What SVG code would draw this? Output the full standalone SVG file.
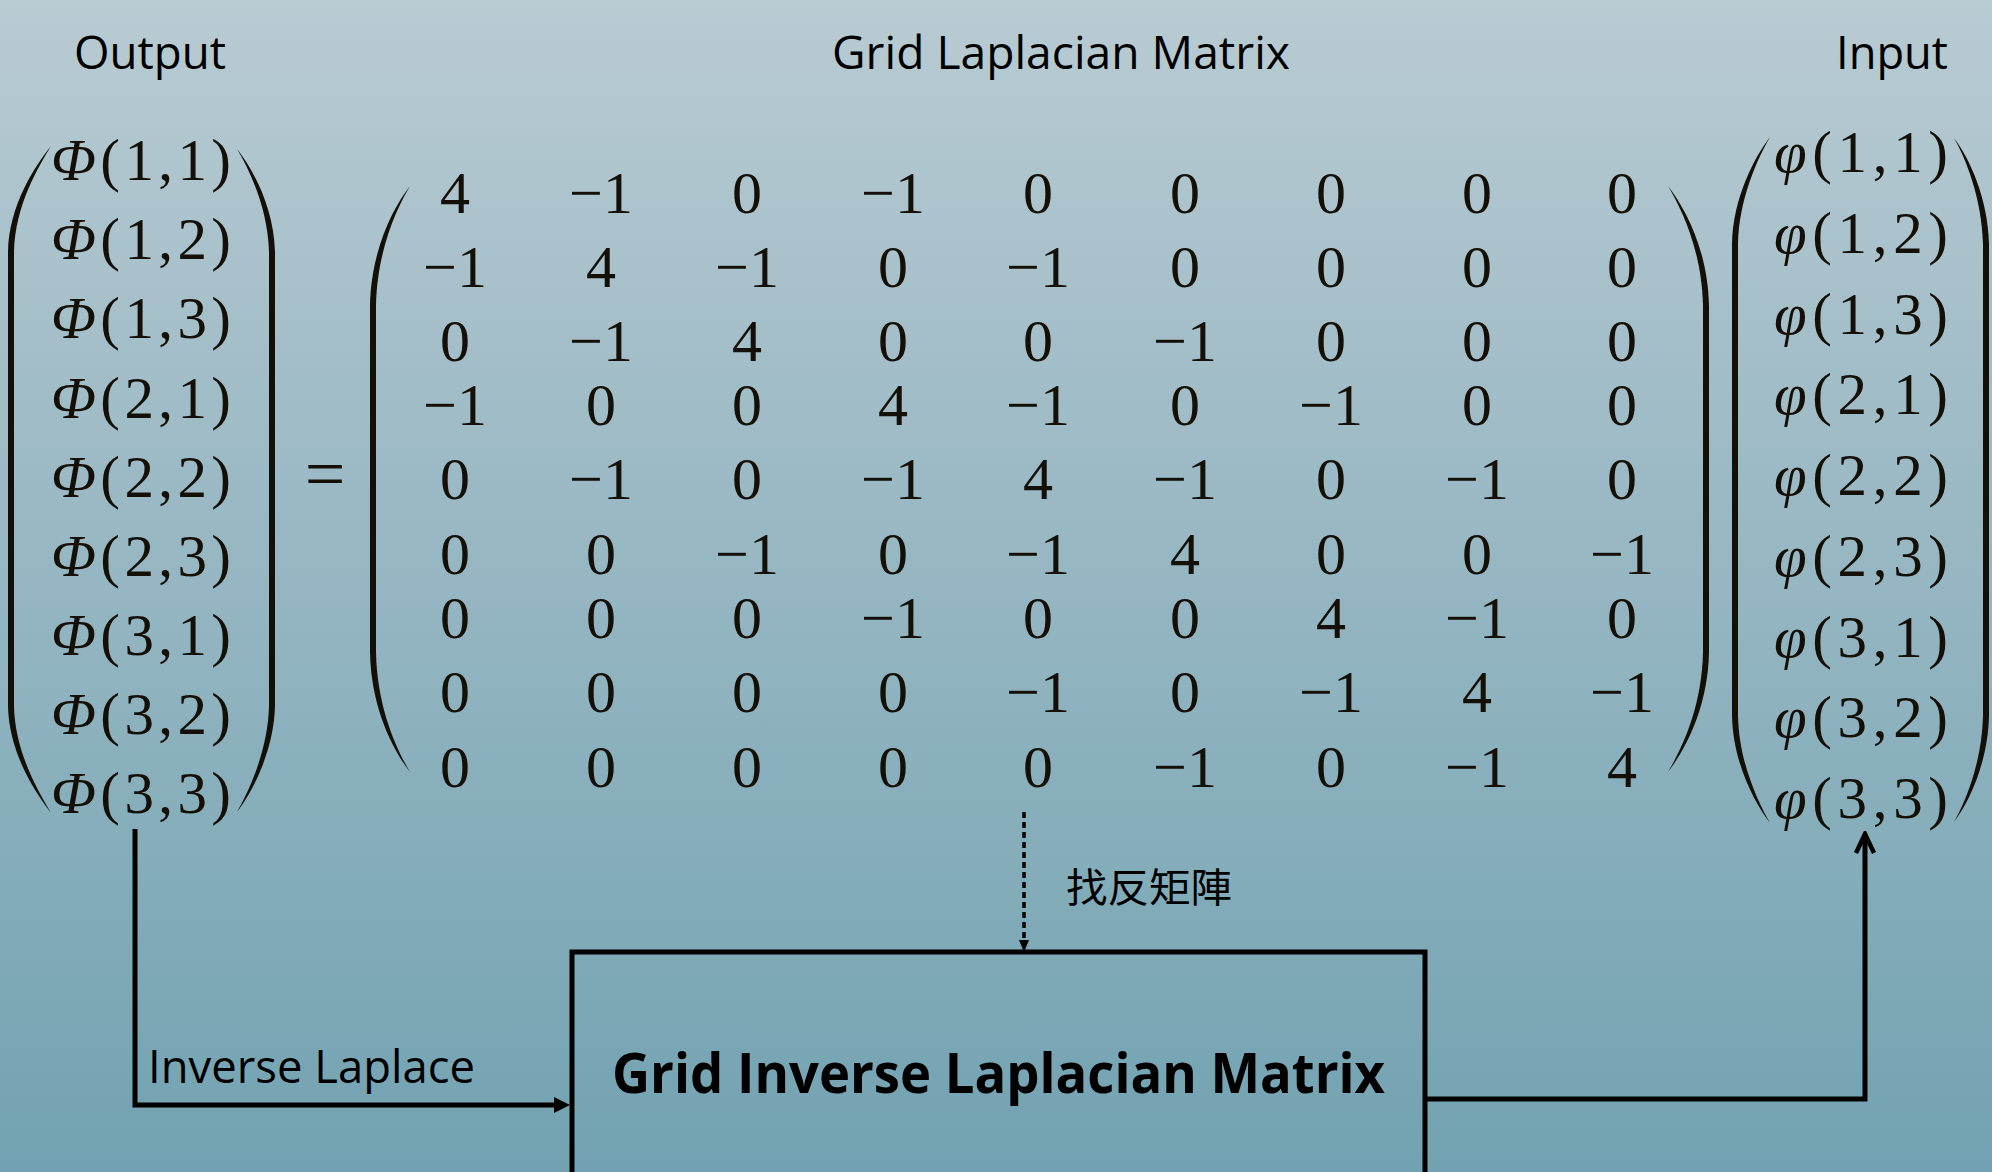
<svg xmlns="http://www.w3.org/2000/svg" width="1992" height="1172" viewBox="0 0 1992 1172">
  <defs>
    <linearGradient id="bg" x1="0" y1="0" x2="0" y2="1">
      <stop offset="0" stop-color="#b9cbd3"/>
      <stop offset="0.5" stop-color="#95b6c2"/>
      <stop offset="1" stop-color="#72a2b1"/>
    </linearGradient>
    <marker id="head-solid" viewBox="0 0 16 16" refX="4" refY="8" markerWidth="16" markerHeight="16" markerUnits="userSpaceOnUse" orient="auto">
      <path d="M0,0 L16,8 L0,16 Z" fill="#000"/>
    </marker>
    <marker id="head-small" viewBox="0 0 12 10" refX="1" refY="5" markerWidth="12" markerHeight="10" markerUnits="userSpaceOnUse" orient="auto">
      <path d="M0,0 L12,5 L0,10 Z" fill="#000"/>
    </marker>
    <marker id="head-open" viewBox="0 0 24 24" refX="21" refY="12" markerWidth="24" markerHeight="24" markerUnits="userSpaceOnUse" orient="auto">
      <path d="M2,3 L21,12 L2,21" fill="none" stroke="#000" stroke-width="4.5"/>
    </marker>
    <style>
      .label { font-family: "Open Sans", "Liberation Sans", sans-serif; font-size: 46px; fill: #000; }
      .box-label { font-family: "Open Sans", "Liberation Sans", sans-serif; font-size: 56px; font-weight: bold; fill: #000; }
      .cjk { font-family: "Noto Sans CJK TC", "Noto Sans CJK SC", sans-serif; font-size: 40px; fill: #000; }
      .vec { font-family: "Liberation Serif", "DejaVu Serif", serif; font-size: 59px; fill: #141008; }
      .vec .sym { font-style: italic; }
      .mat { font-family: "Liberation Serif", "DejaVu Serif", serif; font-size: 60px; fill: #141008; text-anchor: middle; }
      .paren { fill: #141008; }
      .wire { fill: none; stroke: #000; stroke-width: 5; }
      .dotted { fill: none; stroke: #000; stroke-width: 3.5; stroke-dasharray: 6 4; }
      .box { fill: none; stroke: #000; stroke-width: 5; }
    </style>
  </defs>

  <!-- backdrop -->
  <rect x="0" y="0" width="1992" height="1172" fill="url(#bg)"/>

  <!-- headings -->
  <g id="headings">
    <text class="label" x="74" y="69" textLength="152" lengthAdjust="spacingAndGlyphs">Output</text>
    <text class="label" x="832" y="69" textLength="458" lengthAdjust="spacingAndGlyphs">Grid Laplacian Matrix</text>
    <text class="label" x="1836" y="69" textLength="112" lengthAdjust="spacingAndGlyphs">Input</text>
  </g>

  <!-- output vector Φ -->
  <g id="output-vector">
    <path class="paren" d="M51,146 C35,166 9,205 8,252 L8,706 C9,753 35,792 51,813 C39,792 15,753 14,706 L14,252 C15,205 39,166 51,146 Z"/>
    <path class="paren" d="M237,149 C253,169 274,208 275,252 L275,706 C274,750 253,791 237,812 C249,791 268,750 269,706 L269,252 C268,208 249,169 237,149 Z"/>
    <g class="vec">
      <text x="51" y="180" textLength="180" lengthAdjust="spacing"><tspan class="sym">Φ</tspan>(1,1)</text>
      <text x="51" y="259" textLength="180" lengthAdjust="spacing"><tspan class="sym">Φ</tspan>(1,2)</text>
      <text x="51" y="338" textLength="180" lengthAdjust="spacing"><tspan class="sym">Φ</tspan>(1,3)</text>
      <text x="51" y="418" textLength="180" lengthAdjust="spacing"><tspan class="sym">Φ</tspan>(2,1)</text>
      <text x="51" y="497" textLength="180" lengthAdjust="spacing"><tspan class="sym">Φ</tspan>(2,2)</text>
      <text x="51" y="576" textLength="180" lengthAdjust="spacing"><tspan class="sym">Φ</tspan>(2,3)</text>
      <text x="51" y="655" textLength="180" lengthAdjust="spacing"><tspan class="sym">Φ</tspan>(3,1)</text>
      <text x="51" y="734" textLength="180" lengthAdjust="spacing"><tspan class="sym">Φ</tspan>(3,2)</text>
      <text x="51" y="813" textLength="180" lengthAdjust="spacing"><tspan class="sym">Φ</tspan>(3,3)</text>
    </g>
  </g>

  <!-- equals sign -->
  <g id="equals">
    <text class="mat" x="325" y="498" style="font-size:72px">=</text>
  </g>

  <!-- 9x9 grid Laplacian -->
  <g id="laplacian-matrix">
    <path class="paren" d="M410,186 C393,208 371,250 370,306 L370,652 C371,708 393,750 410,772 C397,750 377,708 376,652 L376,306 C377,250 397,208 410,186 Z"/>
    <path class="paren" d="M1668,186 C1685,208 1708,250 1709,306 L1709,652 C1708,708 1685,750 1668,772 C1681,750 1702,708 1703,652 L1703,306 C1702,250 1681,208 1668,186 Z"/>
    <g class="mat">
      <text x="455" y="213">4</text><text x="601" y="213">−1</text><text x="747" y="213">0</text><text x="893" y="213">−1</text><text x="1038" y="213">0</text><text x="1185" y="213">0</text><text x="1331" y="213">0</text><text x="1477" y="213">0</text><text x="1622" y="213">0</text>
      <text x="455" y="287">−1</text><text x="601" y="287">4</text><text x="747" y="287">−1</text><text x="893" y="287">0</text><text x="1038" y="287">−1</text><text x="1185" y="287">0</text><text x="1331" y="287">0</text><text x="1477" y="287">0</text><text x="1622" y="287">0</text>
      <text x="455" y="361">0</text><text x="601" y="361">−1</text><text x="747" y="361">4</text><text x="893" y="361">0</text><text x="1038" y="361">0</text><text x="1185" y="361">−1</text><text x="1331" y="361">0</text><text x="1477" y="361">0</text><text x="1622" y="361">0</text>
      <text x="455" y="425">−1</text><text x="601" y="425">0</text><text x="747" y="425">0</text><text x="893" y="425">4</text><text x="1038" y="425">−1</text><text x="1185" y="425">0</text><text x="1331" y="425">−1</text><text x="1477" y="425">0</text><text x="1622" y="425">0</text>
      <text x="455" y="499">0</text><text x="601" y="499">−1</text><text x="747" y="499">0</text><text x="893" y="499">−1</text><text x="1038" y="499">4</text><text x="1185" y="499">−1</text><text x="1331" y="499">0</text><text x="1477" y="499">−1</text><text x="1622" y="499">0</text>
      <text x="455" y="574">0</text><text x="601" y="574">0</text><text x="747" y="574">−1</text><text x="893" y="574">0</text><text x="1038" y="574">−1</text><text x="1185" y="574">4</text><text x="1331" y="574">0</text><text x="1477" y="574">0</text><text x="1622" y="574">−1</text>
      <text x="455" y="638">0</text><text x="601" y="638">0</text><text x="747" y="638">0</text><text x="893" y="638">−1</text><text x="1038" y="638">0</text><text x="1185" y="638">0</text><text x="1331" y="638">4</text><text x="1477" y="638">−1</text><text x="1622" y="638">0</text>
      <text x="455" y="712">0</text><text x="601" y="712">0</text><text x="747" y="712">0</text><text x="893" y="712">0</text><text x="1038" y="712">−1</text><text x="1185" y="712">0</text><text x="1331" y="712">−1</text><text x="1477" y="712">4</text><text x="1622" y="712">−1</text>
      <text x="455" y="787">0</text><text x="601" y="787">0</text><text x="747" y="787">0</text><text x="893" y="787">0</text><text x="1038" y="787">0</text><text x="1185" y="787">−1</text><text x="1331" y="787">0</text><text x="1477" y="787">−1</text><text x="1622" y="787">4</text>
    </g>
  </g>

  <!-- input vector φ -->
  <g id="input-vector">
    <path class="paren" d="M1770,137 C1754,158 1733,198 1732,244 L1732,716 C1733,762 1754,802 1770,823 C1758,802 1739,762 1738,716 L1738,244 C1739,198 1758,158 1770,137 Z"/>
    <path class="paren" d="M1954,138 C1970,159 1988,199 1989,244 L1989,716 C1988,761 1970,801 1954,822 C1966,801 1982,761 1983,716 L1983,244 C1982,199 1966,159 1954,138 Z"/>
    <g class="vec">
      <text x="1774" y="172" textLength="174" lengthAdjust="spacing"><tspan class="sym">φ</tspan>(1,1)</text>
      <text x="1774" y="253" textLength="174" lengthAdjust="spacing"><tspan class="sym">φ</tspan>(1,2)</text>
      <text x="1774" y="334" textLength="174" lengthAdjust="spacing"><tspan class="sym">φ</tspan>(1,3)</text>
      <text x="1774" y="414" textLength="174" lengthAdjust="spacing"><tspan class="sym">φ</tspan>(2,1)</text>
      <text x="1774" y="495" textLength="174" lengthAdjust="spacing"><tspan class="sym">φ</tspan>(2,2)</text>
      <text x="1774" y="576" textLength="174" lengthAdjust="spacing"><tspan class="sym">φ</tspan>(2,3)</text>
      <text x="1774" y="657" textLength="174" lengthAdjust="spacing"><tspan class="sym">φ</tspan>(3,1)</text>
      <text x="1774" y="737" textLength="174" lengthAdjust="spacing"><tspan class="sym">φ</tspan>(3,2)</text>
      <text x="1774" y="818" textLength="174" lengthAdjust="spacing"><tspan class="sym">φ</tspan>(3,3)</text>
    </g>
  </g>

  <!-- inverse matrix block -->
  <g id="inverse-matrix">
    <rect class="box" x="572" y="952" width="853" height="260"/>
    <text class="box-label" x="612" y="1093" textLength="773" lengthAdjust="spacingAndGlyphs">Grid Inverse Laplacian Matrix</text>
  </g>

  <!-- connectors -->
  <g id="connectors">
    <path class="wire" d="M135,829 V1105 H558" marker-end="url(#head-solid)"/>
    <text class="label" x="148" y="1083" textLength="327" lengthAdjust="spacingAndGlyphs">Inverse Laplace</text>
    <path class="dotted" d="M1024,812 V941" marker-end="url(#head-small)"/>
    <text class="cjk" x="1066" y="902" textLength="166" lengthAdjust="spacingAndGlyphs">找反矩陣</text>
    <path class="wire" d="M1425,1099 H1865 V834" marker-end="url(#head-open)"/>
  </g>
</svg>
